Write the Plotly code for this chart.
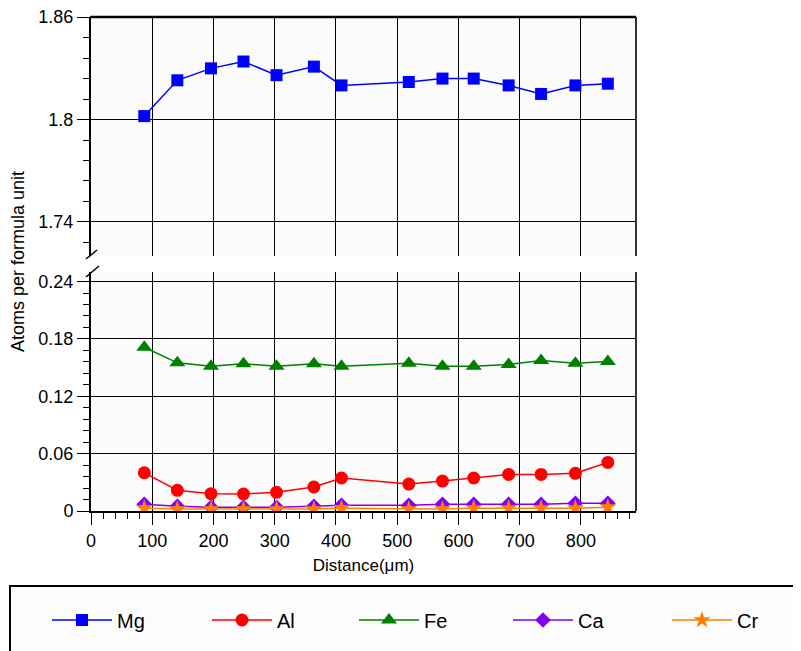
import plotly.graph_objects as go

distance = [87, 141, 196, 249, 303, 364, 409, 519, 574, 625, 682, 735, 791, 844]
mg = [1.802, 1.823, 1.830, 1.834, 1.826, 1.831, 1.820, 1.822, 1.824, 1.824, 1.820, 1.815, 1.820, 1.821]
al = [0.040, 0.0216, 0.0181, 0.0178, 0.0195, 0.0251, 0.0345, 0.0282, 0.0313, 0.0345, 0.0383, 0.0383, 0.0394, 0.0508]
fe = [0.1713, 0.155, 0.1515, 0.154, 0.1515, 0.154, 0.1515, 0.1546, 0.1515, 0.1515, 0.1532, 0.1574, 0.1546, 0.1564]
ca = [0.007, 0.005, 0.004, 0.004, 0.004, 0.005, 0.006, 0.006, 0.007, 0.007, 0.007, 0.007, 0.008, 0.008]
cr = [0.003, 0.002, 0.002, 0.002, 0.002, 0.002, 0.003, 0.002, 0.002, 0.003, 0.003, 0.003, 0.003, 0.004]

OFF = 8  # page body margin
W, H = 801 - OFF, 651 - OFF
# plot-area edges in reference (window) pixels
L, R, T, B = 91, 636, 17, 511
pw, ph = R - L, B - T

def px(x):
    return (x - L) / pw

def py(y):
    return (B - y) / ph

fig = go.Figure()
font = "Liberation Sans, Arial, sans-serif"

series = [
    ("Mg", mg, "#0000ff", "square", 12, "y2", "x2", "legend", 74),
    ("Al", al, "#ff0000", "circle", 13, "y", "x", "legend2", 234),
    ("Fe", fe, "#008000", "triangle-up", 14, "y", "x", "legend3", 381),
    ("Ca", ca, "#8000ff", "diamond", 12, "y", "x", "legend4", 535),
    ("Cr", cr, "#ff8000", "star", 13, "y", "x", "legend5", 694),
]
legends = {}
for name, vals, col, sym, sz, ya, xa, lg, lx in series:
    fig.add_trace(go.Scatter(
        x=distance, y=vals, name=name, mode="lines+markers",
        line=dict(color=col, width=1.5),
        marker=dict(symbol=sym, size=sz, color=col),
        xaxis=xa, yaxis=ya, legend=lg,
    ))
    legends[lg] = dict(orientation="h", x=px(lx - 27), y=py(620), xanchor="left", yanchor="middle",
                       bgcolor="rgba(0,0,0,0)", borderwidth=0,
                       font=dict(size=20, family=font), itemwidth=60)

top_lo = py(256)
bot_hi = py(272)

common_x = dict(range=[0, 890], showgrid=True, gridcolor="#000000", gridwidth=1,
                zeroline=False, dtick=100, tick0=0)
fig.update_layout(
    width=W, height=H,
    margin=dict(l=L - OFF, r=801 - R, t=T - OFF, b=651 - B, autoexpand=False),
    paper_bgcolor="#ffffff", plot_bgcolor="#fbfbfb",
    font=dict(family=font, size=18, color="#000000"),
    showlegend=True,
    xaxis=dict(**common_x, domain=[0, 1], anchor="y",
               showline=True, linecolor="#000000", linewidth=2,
               ticks="outside", ticklen=12, tickwidth=1, tickcolor="#000000",
               minor=dict(ticks="outside", ticklen=6, dtick=20, tickcolor="#000000", showgrid=False),
               tickfont=dict(size=18), ticklabeloverflow="allow",
               title=dict(text="Distance(μm)", font=dict(size=17), standoff=10)),
    xaxis2=dict(**common_x, domain=[0, 1], anchor="y2", matches="x",
                showticklabels=False, ticks="", showline=False),
    yaxis=dict(domain=[0, bot_hi], range=[0, 0.25], tick0=0, dtick=0.06,
               showgrid=True, gridcolor="#000000", gridwidth=1, zeroline=False,
               showline=True, linecolor="#000000", linewidth=2,
               ticks="outside", ticklen=12, tickcolor="#000000",
               minor=dict(ticks="outside", ticklen=6, dtick=0.012, tick0=0, tickcolor="#000000", showgrid=False),
               tickfont=dict(size=18), ticklabeloverflow="allow", anchor="x"),
    yaxis2=dict(domain=[top_lo, 1], range=[1.72, 1.8601], tick0=1.74, dtick=0.06,
                showgrid=True, gridcolor="#000000", gridwidth=1, zeroline=False,
                showline=True, linecolor="#000000", linewidth=2,
                ticks="outside", ticklen=12, tickcolor="#000000",
                minor=dict(ticks="outside", ticklen=6, dtick=0.012, tick0=1.74, tickcolor="#000000", showgrid=False),
                tickfont=dict(size=18), ticklabeloverflow="allow", anchor="x2"),
    **legends,
)

shapes = [
    # legend box
    dict(type="rect", xref="paper", yref="paper", x0=px(10), x1=px(815), y0=py(586), y1=py(665),
         line=dict(color="#000000", width=2), fillcolor="#fcfcfc", layer="below"),
    # top border of upper panel
    dict(type="line", xref="paper", yref="paper", x0=px(L - 1), x1=px(R), y0=1, y1=1,
         line=dict(color="#000000", width=2.5)),
    # right borders
    dict(type="line", xref="paper", yref="paper", x0=1, x1=1, y0=top_lo, y1=1,
         line=dict(color="#333333", width=2)),
    dict(type="line", xref="paper", yref="paper", x0=1, x1=1, y0=0, y1=bot_hi,
         line=dict(color="#333333", width=2)),
    # break marks
    dict(type="line", xref="paper", yref="paper", x0=px(86), x1=px(97), y0=py(259), y1=py(250),
         line=dict(color="#000000", width=1.5)),
    dict(type="line", xref="paper", yref="paper", x0=px(86), x1=px(99), y0=py(277), y1=py(266),
         line=dict(color="#000000", width=1.5)),
]
fig.update_layout(shapes=shapes)

fig.add_annotation(text="Atoms per formula unit", xref="paper", yref="paper",
                   x=px(18), y=py(262), textangle=-90, showarrow=False,
                   font=dict(size=18, family=font), xanchor="center", yanchor="middle")

fig.write_html("out.html")
